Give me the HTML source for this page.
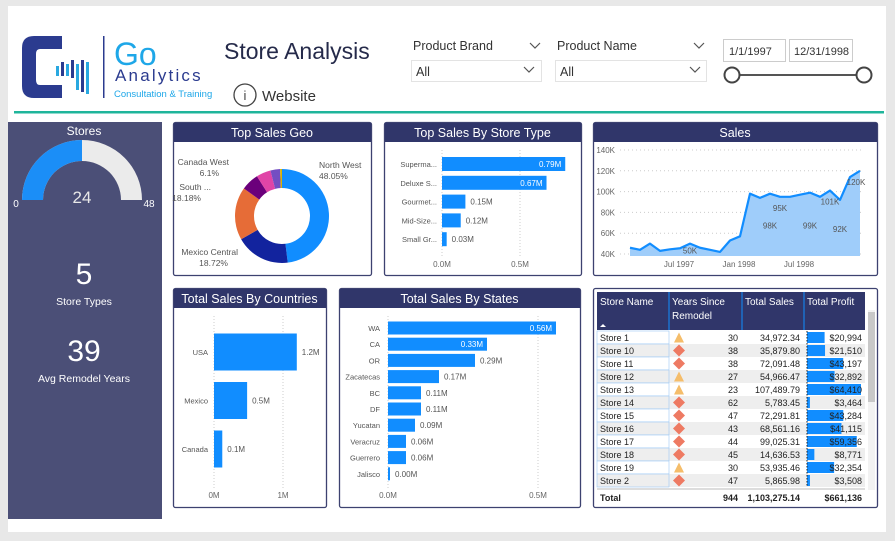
<!DOCTYPE html>
<html><head><meta charset="utf-8">
<style>
body{margin:0;background:#e8e8e8;font-family:"Liberation Sans","DejaVu Sans",sans-serif;}
svg{display:block}
text{font-family:"Liberation Sans","DejaVu Sans",sans-serif;}
</style></head>
<body>
<svg id="s" width="895" height="541" viewBox="0 0 895 541" xmlns="http://www.w3.org/2000/svg">
<rect x="8" y="6" width="878" height="526" fill="#fff"/>
<g>
<path d="M62 36 H34 Q22 36 22 48 V86 Q22 98 34 98 H62 V85 H40 Q36 85 36 80 V54 Q36 49 40 49 H62 Z" fill="#2b3b8f"/>
<rect x="56" y="66" width="3" height="10" fill="#29a8e0"/><rect x="61" y="62" width="3" height="14" fill="#2b3b8f"/>
<rect x="66" y="64" width="3" height="12" fill="#29a8e0"/><rect x="71" y="60" width="3" height="18" fill="#2b3b8f"/>
<rect x="76" y="64" width="3" height="26" fill="#29a8e0"/><rect x="81" y="60" width="3" height="32" fill="#2b3b8f"/>
<rect x="86" y="62" width="3" height="32" fill="#29a8e0"/>
<rect x="103" y="36" width="1.5" height="62" fill="#2b3b8f"/>
<text x="114" y="65" font-size="32" fill="#1ea7e8">Go</text>
<text x="115" y="81" font-size="17" fill="#2b3b8f" letter-spacing="2.2">Analytics</text>
<text x="114" y="97" font-size="9.5" fill="#1ea7e8">Consultation &amp; Training</text>
</g>
<text x="224" y="59" font-size="23" fill="#252a4a">Store Analysis</text>
<g>
<circle cx="245" cy="95" r="11" fill="none" stroke="#444" stroke-width="1.3"/>
<text x="245" y="100" font-size="13" fill="#444" text-anchor="middle">i</text>
<text x="262" y="101" font-size="15" fill="#333">Website</text></g>
<g>
<text x="413" y="50" font-size="12.5" fill="#333">Product Brand</text>
<path d="M530 43 l5 5 l5 -5" fill="none" stroke="#555" stroke-width="1.2"/>
<rect x="411.5" y="60.5" width="130" height="21" fill="#fff" stroke="#e3e3e3"/>
<text x="416" y="76" font-size="12.5" fill="#333">All</text>
<path d="M524 67 l5 5 l5 -5" fill="none" stroke="#555" stroke-width="1.2"/></g>
<g>
<text x="557" y="50" font-size="12.5" fill="#333">Product Name</text>
<path d="M694 43 l5 5 l5 -5" fill="none" stroke="#555" stroke-width="1.2"/>
<rect x="555.5" y="60.5" width="151" height="21" fill="#fff" stroke="#e3e3e3"/>
<text x="560" y="76" font-size="12.5" fill="#333">All</text>
<path d="M690 67 l5 5 l5 -5" fill="none" stroke="#555" stroke-width="1.2"/></g>
<g>
<rect x="723.5" y="39.5" width="62" height="22" fill="#fff" stroke="#ccc"/>
<text x="729" y="55" font-size="11" fill="#333">1/1/1997</text>
<rect x="789.5" y="39.5" width="63" height="22" fill="#fff" stroke="#ccc"/>
<text x="794" y="55" font-size="11" fill="#333">12/31/1998</text>
<rect x="732" y="74" width="132" height="2" fill="#555"/>
<circle cx="732" cy="75" r="7.5" fill="#fff" stroke="#444" stroke-width="2"/>
<circle cx="864" cy="75" r="7.5" fill="#fff" stroke="#444" stroke-width="2"/></g>
<rect x="14" y="111" width="870" height="2.5" fill="#1fb59b"/>

<g>
<rect x="8" y="122" width="154" height="397" fill="#4b4f77"/>
<text x="84" y="135" font-size="12" fill="#fff" text-anchor="middle">Stores</text>
<path id="gaugeBg" fill="#ebebeb"/><path id="gaugeFg" fill="#1b8ef7"/>
<text x="82" y="203" font-size="17" fill="#e8e8e8" text-anchor="middle">24</text>
<text x="16" y="207" font-size="10" fill="#fff" text-anchor="middle">0</text>
<text x="149" y="207" font-size="10" fill="#fff" text-anchor="middle">48</text>
<text x="84" y="284" font-size="30" fill="#fff" text-anchor="middle">5</text>
<text x="84" y="305" font-size="10.5" fill="#fff" text-anchor="middle">Store Types</text>
<text x="84" y="361" font-size="30" fill="#fff" text-anchor="middle">39</text>
<text x="84" y="382" font-size="10.5" fill="#fff" text-anchor="middle">Avg Remodel Years</text>
</g>
<g id="panels"></g>
<g id="marks"></g>
</svg>
<script>
const gaugeValue = 24, gaugeMax = 48;
const geoNames = ["North West","Mexico Central","South ...","Canada West","Other A","Other B","Other C"];
const geoPct = [48.05,18.72,18.18,6.1,5.0,3.3,0.65];
const geoColors = ["#118dff","#12239e","#e66c37","#6b007b","#e044a7","#744ec2","#d9b300"];
const typeNames = ["Superma...","Deluxe S...","Gourmet...","Mid-Size...","Small Gr..."];
const typeValues = [0.79,0.67,0.15,0.12,0.03];
const typeTicks = [0,0.5];
const salesMonths = ["Jan 97","Feb 97","Mar 97","Apr 97","May 97","Jun 97","Jul 97","Aug 97","Sep 97","Oct 97","Nov 97","Dec 97","Jan 98","Feb 98","Mar 98","Apr 98","May 98","Jun 98","Jul 98","Aug 98","Sep 98","Oct 98","Nov 98","Dec 98"];
const salesValues = [46,44,50,43,44.5,45.5,50,46,44,42,53,57,98,94,98,95,95,97,99,95,101,92,114,120];
const salesTicks = [40,60,80,100,120,140];
const salesXLabels = [["Jul 1997",5],["Jan 1998",11],["Jul 1998",17]];
const salesLabelIdx = [6,15,14,18,20,21,23];
const salesLabelText = ["50K","95K","98K","99K","101K","92K","120K"];
const salesLabelDy = [10,14,35,36,14,32,14];
const countryNames = ["USA","Mexico","Canada"];
const countryValues = [1.2,0.48,0.12];
const countryLabels = ["1.2M","0.5M","0.1M"];
const countryTicks = [0,1];
const stateNames = ["WA","CA","OR","Zacatecas","BC","DF","Yucatan","Veracruz","Guerrero","Jalisco"];
const stateValues = [0.56,0.33,0.29,0.17,0.11,0.11,0.09,0.06,0.06,0.004];
const stateTicks = [0,0.5];
const storeNames = ["Store 1","Store 10","Store 11","Store 12","Store 13","Store 14","Store 15","Store 16","Store 17","Store 18","Store 19","Store 2"];
const storeYears = [30,38,38,27,23,62,47,43,44,45,30,47];
const storeSales = [34972.34,35879.80,72091.48,54966.47,107489.79,5783.45,72291.81,68561.16,99025.31,14636.53,53935.46,5865.98];
const storeProfit = [20994,21510,43197,32892,64410,3464,43284,41115,59356,8771,32354,3508];

const NS="http://www.w3.org/2000/svg";
const P=document.getElementById('panels'), M=document.getElementById('marks');
function el(tag,attrs,parent,txt){const e=document.createElementNS(NS,tag);for(const k in attrs)e.setAttribute(k,attrs[k]);if(txt!==undefined)e.textContent=txt;(parent||M).appendChild(e);return e;}

const panels=[["top-sales-geo-panel",173,122,198,153,"Top Sales Geo"],["store-type-panel",384,122,197,153,"Top Sales By Store Type"],["sales-panel",593,122,284,153,"Sales"],["countries-panel",173,288,153,219,"Total Sales By Countries"],["states-panel",339,288,241,219,"Total Sales By States"],["table-panel",593,288,284,219,""]];
panels.forEach(p=>{
 const g=el('g',{},P);
 
 
 el('rect',{x:p[1]+.5,y:p[2]+.5,width:p[3],height:p[4],rx:2,fill:'#fff',stroke:'#3d4270','stroke-width':1.3},g);
 if(p[5]){el('rect',{x:p[1]+1,y:p[2]+1,width:p[3]-1,height:19,fill:'#30366a'},g);
 el('text',{x:p[1]+p[3]/2,y:p[2]+15,'font-size':12.5,fill:'#fff','text-anchor':'middle'},g,p[5]);}
});

(function(){const cx=82,cy=200,R=60,r=39;
 function arc(a0,a1){const p=(a,rr)=>[cx+rr*Math.cos(a),cy-rr*Math.sin(a)];
  const [x0,y0]=p(a0,R),[x1,y1]=p(a1,R),[x2,y2]=p(a1,r),[x3,y3]=p(a0,r);
  return `M${x0} ${y0} A${R} ${R} 0 0 1 ${x1} ${y1} L${x2} ${y2} A${r} ${r} 0 0 0 ${x3} ${y3}Z`;}
 const f=gaugeValue/gaugeMax;
 document.getElementById('gaugeBg').setAttribute('d',arc(Math.PI,0));
 document.getElementById('gaugeFg').setAttribute('d',arc(Math.PI,Math.PI-f*Math.PI));
 document.getElementById('gaugeFg');
 document.getElementById('gaugeFg');
})();

(function(){const cx=282,cy=216,R=47,r=28;let a=-Math.PI/2;const tot=geoPct.reduce((s,v)=>s+v,0);
 geoPct.forEach((v,i)=>{const a1=a+v/tot*2*Math.PI;const big=(a1-a)>Math.PI?1:0;
  const p=(t,rr)=>(cx+rr*Math.cos(t))+' '+(cy+rr*Math.sin(t));
  const s=el('path',{d:`M${p(a,R)} A${R} ${R} 0 ${big} 1 ${p(a1,R)} L${p(a1,r)} A${r} ${r} 0 ${big} 0 ${p(a,r)}Z`,fill:geoColors[i]});
  
  
  a=a1;});
 const labs=[[319,168,"start",0],[238,255,"end",1],[211,190,"end",2],[229,165,"end",3]];
 labs.forEach(l=>{const t=el('text',{x:l[0],y:l[1],'font-size':8.5,fill:'#555','text-anchor':l[2]},M,geoNames[l[3]]);
  
  
  el('text',{x:l[2]=="start"?l[0]:l[0]-10,y:l[1]+11,'font-size':8.5,fill:'#555','text-anchor':l[2]},M,geoPct[l[3]]+'%');});
})();

function hbars(names,vals,labels,x0,pxPerM,y0,step,h,tickVals,tickY,gridTop,gridBot,fmtTick,lblX,fsz,nm){
 tickVals.forEach(t=>{const x=x0+t*pxPerM;el('line',{x1:x,x2:x,y1:gridTop,y2:gridBot,stroke:'#ccc','stroke-dasharray':'1 2'});
  el('text',{x:x,y:tickY,'font-size':8,fill:'#666','text-anchor':'middle'},M,fmtTick(t));});
 vals.forEach((v,i)=>{const cy=y0+i*step,w=Math.max(2,v*pxPerM);
  const b=el('rect',{x:x0,y:cy-h/2,width:w,height:h,fill:'#118dff'});
  
  
  el('text',{x:lblX,y:cy+3,'font-size':fsz,fill:'#555','text-anchor':'end'},M,names[i]);
  const inside=w>90;
  el('text',{x:inside?x0+w-4:x0+w+5,y:cy+3,'font-size':8,fill:inside?'#fff':'#555','text-anchor':inside?'end':'start'},M,labels[i]);});
}
hbars(typeNames,typeValues,typeValues.map(v=>v.toFixed(2)+'M'),442,156,164,18.8,14,typeTicks,267,150,258,t=>t.toFixed(1)+'M',437,7.5,'store-type');
hbars(countryNames,countryValues,countryLabels,214,69,352,48.5,37,countryTicks,498,316,490,t=>t+'M',208,7.5,'country');
hbars(stateNames,stateValues,stateValues.map(v=>v.toFixed(2)+'M'),388,300,328,16.2,13,stateTicks,498,316,490,t=>t.toFixed(1)+'M',380,7.5,'state');

(function(){const x0=630,dx=10,yAt=v=>254-(v-40)*1.04;
 salesTicks.forEach(t=>{el('line',{x1:620,x2:864,y1:yAt(t),y2:yAt(t),stroke:'#ccc','stroke-dasharray':'1 3'});
  el('text',{x:615,y:yAt(t)+3,'font-size':8,fill:'#666','text-anchor':'end'},M,t+'K');});
 const pts=salesValues.map((v,i)=>[x0+i*dx,yAt(v)]);
 const area=el('path',{d:'M'+pts.map(p=>p.join(' ')).join(' L')+` L${pts[pts.length-1][0]} 256 L${x0} 256Z`,fill:'#9fcdfa'});
 
 
 const ln=el('polyline',{points:pts.map(p=>p.join(',')).join(' '),fill:'none',stroke:'#118dff','stroke-width':2.2,'stroke-linejoin':'round'});
 
 
 salesXLabels.forEach(l=>el('text',{x:x0+(l[1]+0.5)*dx-6,y:267,'font-size':8,fill:'#666','text-anchor':'middle'},M,l[0]));
 salesLabelIdx.forEach((k,j)=>{const t=el('text',{x:pts[k][0]-(k==23?4:0),y:pts[k][1]+salesLabelDy[j],'font-size':8,fill:'#555','text-anchor':'middle'},M,salesLabelText[j]);
  
  });
})();

(function(){const cols=[597,669,742,804,865];
 el('rect',{x:597,y:292,width:268,height:38,fill:'#30366a'});
 const hdr=["Store Name","Years Since","Total Sales","Total Profit"];
 hdr.forEach((h,i)=>{const t=el('text',{x:cols[i]+3,y:305,'font-size':10,fill:'#fff'},M,h);
  
  });
 el('text',{x:672,y:319,'font-size':10,fill:'#fff'},M,'Remodel');
 el('path',{d:'M600 327 l3 -3 l3 3z',fill:'#fff'});
 [669,742,804].forEach(x=>el('line',{x1:x,x2:x,y1:292,y2:330,stroke:'#118dff'}));
 const maxP=Math.max(...storeProfit);
 storeNames.forEach((n,i)=>{const y=331+i*13;
  const row=el('g',{});
  
  
  el('rect',{x:597,y:y,width:268,height:13,fill:i%2?'#eeeeee':'#fff'},row);
  el('rect',{x:597,y:y,width:72,height:13,fill:'none',stroke:'#9cc9f5','stroke-width':.6},row);
  el('text',{x:600,y:y+10,'font-size':9,fill:'#222'},row,n);
  const cx=679,cy=y+6.5;
  if(storeYears[i]<35) el('path',{d:`M${cx} ${cy-5} L${cx+5} ${cy+5} L${cx-5} ${cy+5}Z`,fill:'#f5bd6a'},row);
  else el('path',{d:`M${cx} ${cy-6} L${cx+6} ${cy} L${cx} ${cy+6} L${cx-6} ${cy}Z`,fill:'#ee7a62'},row);
  el('text',{x:738,y:y+10,'font-size':9,fill:'#222','text-anchor':'end'},row,storeYears[i]);
  el('text',{x:800,y:y+10,'font-size':9,fill:'#222','text-anchor':'end'},row,storeSales[i].toLocaleString('en-US',{minimumFractionDigits:2,maximumFractionDigits:2}));
  const b=el('rect',{x:807,y:y+1,width:storeProfit[i]/maxP*54,height:11,fill:'#118dff'},row);
  
  
  el('text',{x:862,y:y+10,'font-size':9,fill:'#222','text-anchor':'end'},row,'$'+storeProfit[i].toLocaleString('en-US'));
 });
 el('line',{x1:807,x2:807,y1:331,y2:487,stroke:'#222','stroke-dasharray':'1.5 1.5'});
 el('line',{x1:597,x2:865,y1:489,y2:489,stroke:'#bbb'});
 const tr=el('g',{});
 
 
 el('text',{x:600,y:501,'font-size':9,'font-weight':'bold',fill:'#222'},tr,'Total');
 el('text',{x:738,y:501,'font-size':9,'font-weight':'bold',fill:'#222','text-anchor':'end'},tr,'944');
 el('text',{x:800,y:501,'font-size':9,'font-weight':'bold',fill:'#222','text-anchor':'end'},tr,'1,103,275.14');
 el('text',{x:862,y:501,'font-size':9,'font-weight':'bold',fill:'#222','text-anchor':'end'},tr,'$661,136');
 const sb=el('rect',{x:868,y:310,width:7,height:180,fill:'#f2f2f2'});
 
 
 el('rect',{x:868,y:312,width:7,height:90,fill:'#c8c8c8'});
})();
</script>
</body></html>
